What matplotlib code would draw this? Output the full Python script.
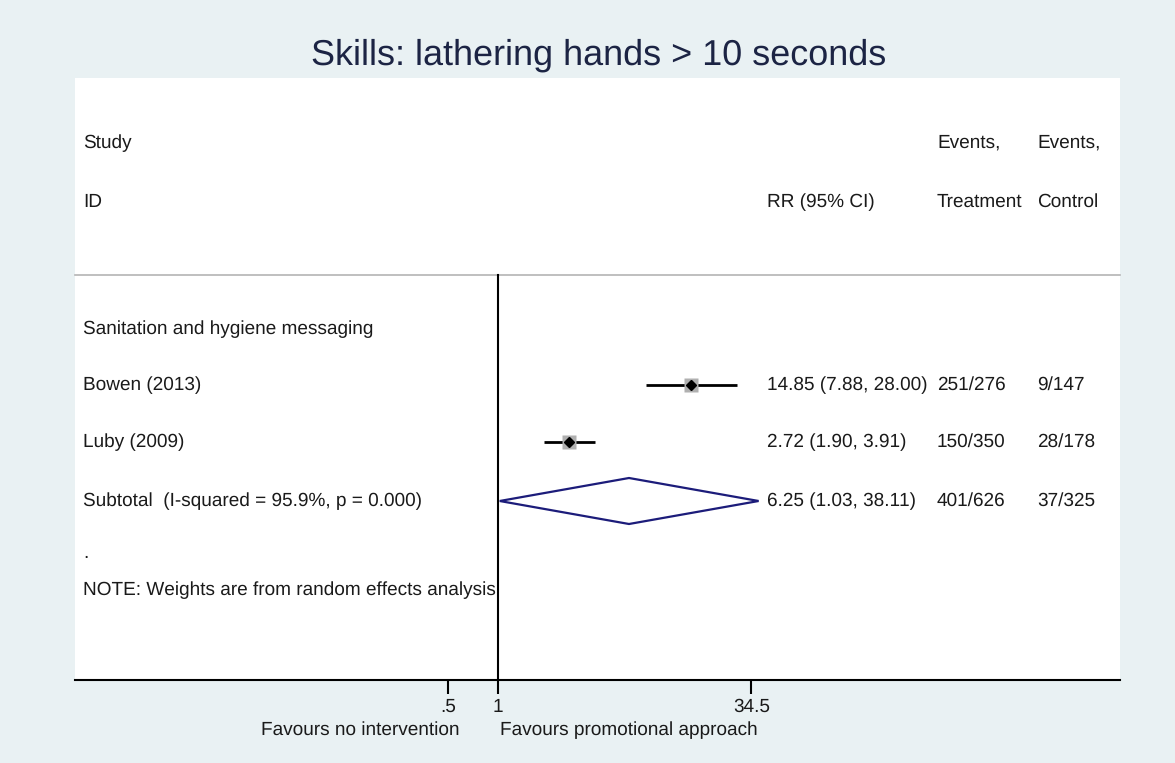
import numpy as np
import matplotlib
matplotlib.use("Agg")
import matplotlib.pyplot as plt
from matplotlib.transforms import blended_transform_factory

plt.rcParams['font.family'] = ['Liberation Sans', 'DejaVu Sans']
plt.rcParams['text.hinting'] = 'none'
plt.rcParams['text.hinting_factor'] = 1

# ---------------- data ----------------
title = "Skills: lathering hands > 10 seconds"
group_label = "Sanitation and hygiene messaging"
studies = ["Bowen (2013)", "Luby (2009)"]
rr = [14.85, 2.72]
ci_low = [7.88, 1.90]
ci_high = [28.00, 3.91]
events_treat = ["251/276", "150/350"]
events_ctrl = ["9/147", "28/178"]
subtotal_label = "Subtotal  (I-squared = 95.9%, p = 0.000)"
subtotal_rr = 6.25
subtotal_low = 1.03
subtotal_high = 38.11
subtotal_treat = "401/626"
subtotal_ctrl = "37/325"
note = "NOTE: Weights are from random effects analysis"
xticks = [0.5, 1, 34.5]
xtick_labels = [".5", "1", "34.5"]
left_label = "Favours no intervention"
right_label = "Favours promotional approach"

# ---------------- layout ----------------
W, H = 1175, 763
bg = "#e9f1f3"
px_left, px_right, px_top, px_bottom = 75, 1120, 78, 680
px_one = 497.6          # pixel position of RR = 1
px_per_log = 71.7       # pixels per natural log unit

fig = plt.figure(figsize=(W / 100, H / 100), dpi=100, facecolor=bg)
ax = fig.add_axes([px_left / W, (H - px_bottom) / H,
                   (px_right - px_left) / W, (px_bottom - px_top) / H])
ax.set_facecolor("white")
ax.set_xscale("log")
xmin = np.exp(-(px_one - px_left) / px_per_log)
xmax = np.exp((px_right - px_one) / px_per_log)
ax.set_xlim(xmin, xmax)
ax.set_ylim(px_bottom, px_top)   # y in pixel rows from the top

def fx(px):
    return (px - px_left) / (px_right - px_left)

tr = blended_transform_factory(ax.transAxes, ax.transData)

fs = 13.8
txtc = "#1a1a1a"

# header
y_h1, y_h2, y_sep = 143, 202, 275
ax.text(fx(83), y_h1, "Study", transform=tr, fontsize=fs, va="center", color=txtc)
ax.text(fx(83), y_h2, "ID", transform=tr, fontsize=fs, va="center", color=txtc)
ax.text(fx(767), y_h2, "RR (95% CI)", transform=tr, fontsize=fs, va="center", color=txtc)
ax.text(fx(937), y_h1, "Events,", transform=tr, fontsize=fs, va="center", color=txtc)
ax.text(fx(937), y_h2, "Treatment", transform=tr, fontsize=fs, va="center", color=txtc)
ax.text(fx(1037), y_h1, "Events,", transform=tr, fontsize=fs, va="center", color=txtc)
ax.text(fx(1037), y_h2, "Control", transform=tr, fontsize=fs, va="center", color=txtc)
ax.plot([0, 1], [y_sep, y_sep], transform=tr, color="#b4b4b4", lw=1.2, clip_on=False)

# null line
ax.plot([1, 1], [y_sep, px_bottom], color="black", lw=1.5)

# group row
y_group = 329
ax.text(fx(83), y_group, group_label, transform=tr, fontsize=fs, va="center", color=txtc)

# studies
y_rows = [385, 442]
for i, name in enumerate(studies):
    y = y_rows[i]
    ax.text(fx(83), y, name, transform=tr, fontsize=fs, va="center", color=txtc)
    ax.plot([ci_low[i], ci_high[i]], [y, y], color="black", lw=2, solid_capstyle="butt")
    ax.plot([rr[i]], [y], marker="s", ms=10, color="#b0b0b0", mec="none")
    ax.plot([rr[i]], [y], marker="D", ms=5.5, color="black")
    ax.text(fx(767), y, f"{rr[i]:.2f} ({ci_low[i]:.2f}, {ci_high[i]:.2f})",
            transform=tr, fontsize=fs, va="center", color=txtc)
    ax.text(fx(937), y, events_treat[i], transform=tr, fontsize=fs, va="center", color=txtc)
    ax.text(fx(1037), y, events_ctrl[i], transform=tr, fontsize=fs, va="center", color=txtc)

# subtotal diamond
y_sub = 501
dh = 23
ax.fill([subtotal_low, subtotal_rr, subtotal_high, subtotal_rr, subtotal_low],
        [y_sub, y_sub - dh, y_sub, y_sub + dh, y_sub],
        facecolor="white", edgecolor="#1c1c7a", lw=1.6, zorder=3)
ax.text(fx(83), y_sub, subtotal_label, transform=tr, fontsize=fs, va="center", color=txtc)
ax.text(fx(767), y_sub, f"{subtotal_rr:.2f} ({subtotal_low:.2f}, {subtotal_high:.2f})",
        transform=tr, fontsize=fs, va="center", color=txtc)
ax.text(fx(937), y_sub, subtotal_treat, transform=tr, fontsize=fs, va="center", color=txtc)
ax.text(fx(1037), y_sub, subtotal_ctrl, transform=tr, fontsize=fs, va="center", color=txtc)

# note rows
ax.text(fx(83), 553, ".", transform=tr, fontsize=fs, va="center", color=txtc)
ax.text(fx(83), 590, note, transform=tr, fontsize=fs, va="center", color=txtc)

# axes styling
for s in ["top", "left", "right"]:
    ax.spines[s].set_visible(False)
ax.spines["bottom"].set_linewidth(1.5)
ax.set_xticks(xticks)
ax.set_xticklabels(xtick_labels, fontsize=fs, color=txtc)
ax.xaxis.set_minor_locator(matplotlib.ticker.NullLocator())
ax.tick_params(axis="x", direction="out", length=10, width=1.5, pad=3)
ax.set_yticks([])

# favours labels
fig.text(460 / W, 1 - 730 / H, left_label, ha="right", va="center", fontsize=fs, color=txtc)
fig.text(500 / W, 1 - 730 / H, right_label, ha="left", va="center", fontsize=fs, color=txtc)

# title
fig.text(599 / W, 1 - 55 / H, title, ha="center", va="center", fontsize=26, color="#1c2444")

fig.savefig("out.png", dpi=100, facecolor=bg)
